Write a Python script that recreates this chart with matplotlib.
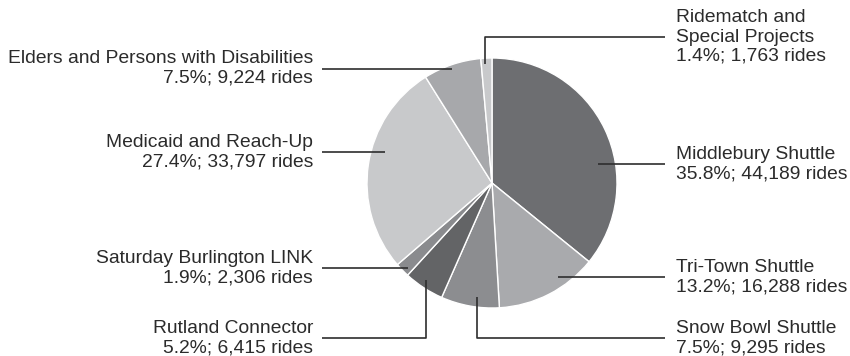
import numpy as np
import matplotlib
matplotlib.use("Agg")
import matplotlib.pyplot as plt

# ---- data ----
categories = ["Middlebury Shuttle", "Tri-Town Shuttle", "Snow Bowl Shuttle",
              "Rutland Connector", "Saturday Burlington LINK",
              "Medicaid and Reach-Up", "Elders and Persons with Disabilities",
              "Ridematch and\nSpecial Projects"]
rides = [44189, 16288, 9295, 6415, 2306, 33797, 9224, 1763]
percent_labels = ["35.8%", "13.2%", "7.5%", "5.2%", "1.9%", "27.4%", "7.5%", "1.4%"]
colors = ["#6d6e71", "#a9aaad", "#8c8d90", "#636466", "#8a8b8e",
          "#c8c9cb", "#a7a8ab", "#c8c9cb"]

W, H = 850, 356
plt.rcParams['font.family'] = ['Liberation Sans', 'DejaVu Sans']
fig = plt.figure(figsize=(W / 100, H / 100), dpi=100)
ax = fig.add_axes([0, 0, 1, 1])

cx, cy, R = 492, H - 183, 125
wedges, _ = ax.pie(rides, colors=colors, startangle=90, counterclock=False,
                   center=(cx, cy), radius=R,
                   wedgeprops=dict(edgecolor="white", linewidth=1.0))
ax.set_xlim(0, W)
ax.set_ylim(0, H)
ax.set_aspect('equal')
ax.axis('off')

# layout: (anchor angle clockwise from top in deg, radius fraction, side, elbow y px or None)
layout = [
    (79.8, 0.86, 'R', None),
    (144.9, 0.92, 'R', None),
    (187.5, 0.92, 'R', 338),
    (214.2, 0.94, 'L', 338),
    (224.7, 0.96, 'L', None),
    (286.2, 0.89, 'L', None),
    (340.7, 0.97, 'L', None),
    (356.6, 0.95, 'R', 37),
]
line_col = "#2e2e2e"
text_col = "#2b2b2b"
xr_line, xr_text = 665, 676
xl_line, xl_text = 322, 313
FS = 13.9

for cat, n, pct, (ang, rf, side, elbow) in zip(categories, rides, percent_labels, layout):
    th = np.deg2rad(ang)
    ax_x = cx + rf * R * np.sin(th)
    ax_y = cy + rf * R * np.cos(th)
    ly = ax_y if elbow is None else H - elbow
    xe = xr_line if side == 'R' else xl_line
    xs = [ax_x, ax_x, xe] if elbow is not None else [ax_x, xe]
    ys = [ax_y, ly, ly] if elbow is not None else [ax_y, ly]
    ax.plot(xs, ys, color=line_col, lw=1.2, solid_capstyle='butt')
    label = f"{cat}\n{pct}; {n:,} rides"
    if side == 'R':
        ax.text(xr_text, ly, label, ha='left', va='center', fontsize=FS,
                color=text_col, linespacing=1.17)
    else:
        ax.text(xl_text, ly, label, ha='right', va='center', fontsize=FS,
                color=text_col, linespacing=1.17, multialignment='right')

fig.savefig("out.png", dpi=100)
